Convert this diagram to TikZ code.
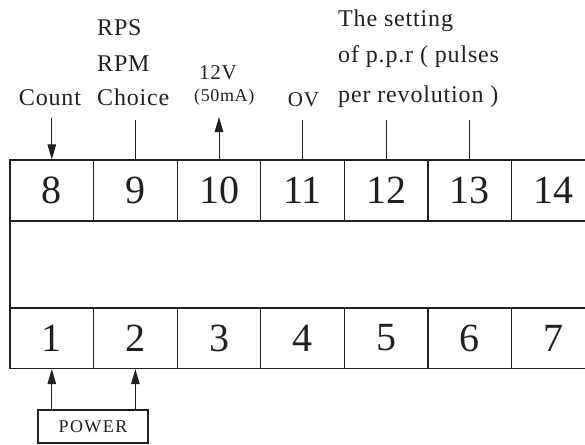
\documentclass[tikz,border=0pt]{standalone}
\usepackage{fontspec}
\setmainfont{Liberation Serif}
\newfontfamily\labfont[LetterSpace=3.5]{Liberation Serif}
\newfontfamily\pwfont[LetterSpace=8]{Liberation Serif}
\usetikzlibrary{arrows.meta}
\definecolor{ink}{RGB}{35,31,32}
\begin{document}
\begin{tikzpicture}[x=1pt,y=-1pt,
  ln/.style={draw=ink,line width=1pt},
  cell/.style={draw=ink,line width=1.2pt,minimum width=83.6pt,minimum height=61pt,inner sep=0pt,font=\fontsize{40}{40}\selectfont,text=ink},
  lab/.style={inner sep=0pt,font=\labfont\fontsize{24}{24}\selectfont,text=ink},
  arr/.style={-{Triangle[length=15pt,width=8.5pt]},line width=1pt,draw=ink,fill=ink}]
\useasboundingbox (0,0) rectangle (585,444);
\clip (0,0) rectangle (585,444);
% top row
\node[cell] (t8)  at (51.8,190.5) {8};
\node[cell] (t9)  at (135.4,190.5) {9};
\node[cell] (t10) at (219.0,190.5) {10};
\node[cell] (t11) at (302.6,190.5) {11};
\node[cell] (t12) at (386.2,190.5) {12};
\node[cell] (t13) at (469.8,190.5) {13};
\node[cell] (t14) at (553.4,190.5) {14};
% middle band
\node[draw=ink,line width=1.2pt,minimum width=585.2pt,minimum height=87pt,inner sep=0pt] (mid) at (302.6,264.5) {};
% bottom row
\node[cell] (b1) at (51.8,338) {1};
\node[cell] (b2) at (135.4,338) {2};
\node[cell] (b3) at (219.0,338) {3};
\node[cell] (b4) at (302.6,338) {4};
\node[cell] (b5) at (386.2,338) {5};
\node[cell] (b6) at (469.8,338) {6};
\node[cell] (b7) at (553.4,338) {7};
% power box
\node[draw=ink,line width=1.2pt,minimum width=110pt,minimum height=33pt,inner sep=0pt,font=\pwfont\fontsize{18}{18}\selectfont,text=ink] (pw) at (93,426.5) {POWER};
% labels
\node[lab,anchor=base] (count) at (50,105) {Count};
\node[lab,anchor=base west] (choice) at (97,105) {Choice};
\node[lab,anchor=base west] (rpm) at (97,71) {RPM};
\node[lab,anchor=base west] (rps) at (97,36) {RPS};
\node[lab,anchor=base west,font=\labfont\fontsize{21}{21}\selectfont] (v12) at (199,79) {12V};
\node[lab,anchor=base west,font=\labfont\fontsize{18}{18}\selectfont] (ma) at (194,101) {(50mA)};
\node[lab,anchor=base,font=\labfont\fontsize{21}{21}\selectfont] (ov) at (303.5,106) {OV};
\node[lab,anchor=base west] (set1) at (338,27) {The setting};
\node[lab,anchor=base west] (set2) at (338,63) {of p.p.r ( pulses};
\node[lab,anchor=base west] (set3) at (338,102) {per revolution )};
% connector ends
\coordinate (c8) at (51.8,118);
\coordinate (c9) at (135.4,120);
\coordinate (c10) at (219.0,117);
\coordinate (c11) at (302.6,120);
\coordinate (c12) at (386.2,120);
\coordinate (c13) at (469.8,120);
% connectors
\draw[arr] (c8) -- (t8.north);
\draw[ln] (c9) -- (t9.north);
\draw[arr] (t10.north) -- (c10);
\draw[ln] (c11) -- (t11.north);
\draw[ln] (c12) -- (t12.north);
\draw[ln] (c13) -- (t13.north);
\draw[arr] (pw.north -| b1.south) -- (b1.south);
\draw[arr] (pw.north -| b2.south) -- (b2.south);
\end{tikzpicture}
\end{document}
